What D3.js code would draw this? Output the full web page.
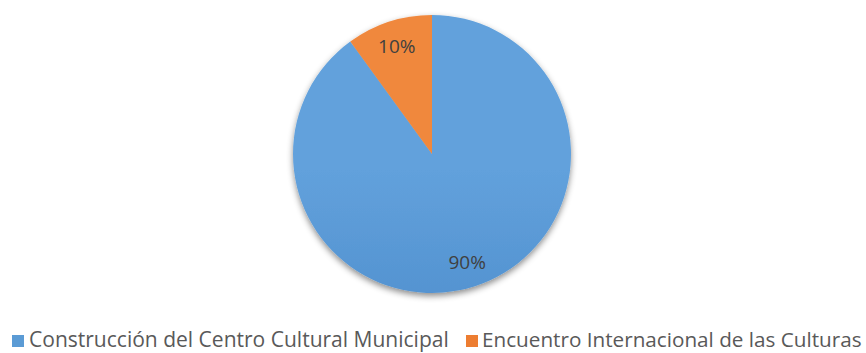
<!DOCTYPE html>
<html><head><meta charset="utf-8">
<script src="https://cdn.jsdelivr.net/npm/d3@7"></script>
<style>html,body{margin:0;padding:0;background:#fff;}svg{display:block;}</style>
</head><body>
<svg id="chart" width="866" height="353"></svg>
<script>
const categories = ["Construcción del Centro Cultural Municipal", "Encuentro Internacional de las Culturas"];
const values = [90, 10];
const labels = ["90%", "10%"];
const colors = ["#5B9BD5", "#ED7D31"];
const colorsLight = ["#62A1DC", "#F0883E"];
const colorsDark = ["#4383C4", "#DA6B1F"];

const W = 866, H = 353;
const cx = 432, cy = 154, R = 139;
const svg = d3.select("#chart");
const defs = svg.append("defs");

const f = defs.append("filter").attr("id","sh").attr("x","-20%").attr("y","-20%").attr("width","140%").attr("height","140%");
f.append("feDropShadow").attr("dx",0).attr("dy",3).attr("stdDeviation",3).attr("flood-color","#000").attr("flood-opacity",0.45);

categories.forEach((c,i)=>{
  const g = defs.append("linearGradient").attr("id","g"+i)
    .attr("gradientUnits","userSpaceOnUse").attr("x1",0).attr("y1",cy-R).attr("x2",0).attr("y2",cy+R);
  g.append("stop").attr("offset","0%").attr("stop-color",colorsLight[i]);
  g.append("stop").attr("offset","100%").attr("stop-color",colorsDark[i]);
});

const pie = d3.pie().sort(null).value(d=>d)(values);
const arc = d3.arc().innerRadius(0).outerRadius(R);
const labelArc = d3.arc().innerRadius(R*0.82).outerRadius(R*0.82);

const gp = svg.append("g").attr("transform",`translate(${cx},${cy})`);
gp.append("g").attr("filter","url(#sh)").selectAll("path").data(pie).join("path")
  .attr("d",arc).attr("fill",(d,i)=>`url(#g${i})`);

gp.selectAll("text").data(pie).join("text")
  .attr("transform",d=>`translate(${labelArc.centroid(d)})`)
  .attr("text-anchor","middle").attr("dominant-baseline","central")
  .attr("font-family","'Open Sans', 'Liberation Sans', sans-serif")
  .attr("font-size",19).attr("fill","#404040")
  .text((d,i)=>labels[i]);

// legend
const legendY = 339;
const legendItems = [{x:12, tx:29, w:420}, {x:466, tx:482, w:380}];
const lg = svg.append("g");
categories.forEach((c,i)=>{
  const it = legendItems[i];
  lg.append("rect").attr("x",it.x).attr("y",legendY-4).attr("width",12).attr("height",12).attr("fill",colors[i]);
  const t = lg.append("text").attr("x",it.tx).attr("y",legendY).attr("dominant-baseline","central")
    .attr("font-family","'Open Sans', 'Liberation Sans', sans-serif")
    .attr("font-size",20).attr("fill","#595959").text(c);
  const len = t.node().getComputedTextLength();
  if (len > 0) t.attr("font-size", 20*it.w/len);
});
</script>
</body></html>
